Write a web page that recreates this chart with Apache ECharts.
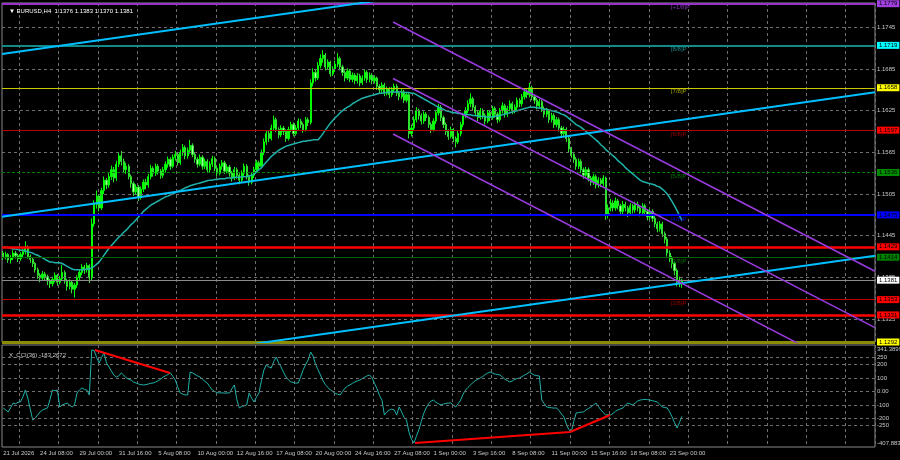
<!DOCTYPE html>
<html><head><meta charset="utf-8">
<script src="https://cdn.jsdelivr.net/npm/echarts@6/dist/echarts.min.js"></script>
<style>html,body{margin:0;padding:0;background:#000}#c{width:900px;height:460px}</style>
</head><body><div id="c"></div>
<script>
// ---------- DATA (prices in pips: 11381 = 1.1381) ----------
const ohlcPips = [
[11420,11415,11410,11423],[11415,11418,11411,11422],[11418,11410,11406,11420],[11410,11413,11405,11417],[11413,11420,11410,11424],
[11420,11416,11412,11423],[11416,11412,11407,11419],[11412,11418,11409,11421],[11418,11422,11414,11426],[11422,11428,11418,11437],
[11428,11415,11412,11431],[11415,11411,11406,11418],[11411,11405,11400,11413],[11405,11396,11392,11407],[11396,11388,11383,11399],
[11388,11384,11378,11391],[11384,11390,11380,11394],[11390,11386,11381,11393],[11386,11380,11374,11389],[11380,11376,11370,11383],
[11376,11382,11372,11386],[11382,11388,11378,11392],[11388,11378,11373,11390],[11378,11383,11375,11387],[11383,11392,11380,11403],
[11392,11380,11376,11395],[11380,11372,11366,11383],[11372,11378,11368,11382],[11378,11368,11362,11380],[11368,11374,11356,11377],
[11374,11385,11370,11388],[11385,11392,11381,11396],[11392,11400,11388,11404],[11400,11396,11390,11403],[11396,11402,11392,11406],
[11402,11384,11377,11404],[11384,11462,11380,11470],[11462,11490,11458,11496],[11490,11502,11484,11510],[11502,11485,11480,11505],
[11485,11510,11482,11514],[11510,11525,11505,11530],[11525,11518,11512,11528],[11518,11530,11514,11535],[11530,11540,11525,11546],
[11540,11528,11522,11544],[11528,11548,11524,11553],[11548,11560,11544,11565],[11560,11552,11546,11567],[11552,11540,11535,11556],
[11540,11545,11534,11550],[11545,11530,11526,11548],[11530,11520,11514,11533],[11520,11508,11502,11523],[11508,11515,11504,11519],
[11515,11500,11495,11518],[11500,11512,11497,11516],[11512,11522,11508,11526],[11522,11518,11512,11527],[11518,11530,11514,11534],
[11530,11542,11526,11547],[11542,11535,11530,11545],[11535,11545,11531,11549],[11545,11538,11533,11548],[11538,11532,11527,11541],
[11532,11540,11528,11544],[11540,11548,11536,11552],[11548,11555,11543,11559],[11555,11545,11540,11558],[11545,11558,11542,11562],
[11558,11562,11553,11567],[11562,11550,11546,11565],[11550,11565,11547,11569],[11565,11572,11560,11577],[11572,11560,11555,11575],
[11560,11568,11556,11572],[11568,11575,11563,11583],[11575,11562,11558,11578],[11562,11555,11550,11565],[11555,11548,11543,11558],
[11548,11558,11545,11562],[11558,11545,11540,11561],[11545,11552,11541,11556],[11552,11540,11535,11555],[11540,11548,11536,11552],
[11548,11556,11544,11560],[11556,11542,11538,11559],[11542,11535,11530,11545],[11535,11545,11532,11549],[11545,11550,11540,11554],
[11550,11538,11534,11553],[11538,11544,11535,11548],[11544,11535,11530,11547],[11535,11528,11523,11538],[11528,11540,11525,11544],
[11540,11532,11527,11543],[11532,11525,11519,11535],[11525,11535,11522,11539],[11535,11545,11531,11549],[11545,11530,11526,11548],
[11530,11522,11517,11533],[11522,11532,11519,11536],[11532,11540,11528,11544],[11540,11550,11536,11554],[11550,11545,11540,11553],
[11545,11565,11542,11569],[11565,11580,11561,11585],[11580,11592,11576,11597],[11592,11585,11580,11596],[11585,11600,11582,11605],
[11600,11612,11596,11618],[11612,11598,11594,11615],[11598,11590,11585,11601],[11590,11600,11587,11604],[11600,11595,11590,11603],
[11595,11585,11580,11598],[11585,11598,11582,11602],[11598,11605,11594,11609],[11605,11592,11588,11608],[11592,11600,11589,11604],
[11600,11610,11596,11614],[11610,11605,11600,11613],[11605,11598,11593,11608],[11598,11612,11595,11616],[11612,11608,11603,11615],
[11608,11665,11605,11670],[11665,11680,11660,11686],[11680,11672,11667,11684],[11672,11690,11669,11695],[11690,11700,11686,11706],
[11700,11705,11694,11712],[11705,11688,11683,11708],[11688,11695,11684,11699],[11695,11678,11674,11697],[11678,11685,11675,11689],
[11685,11692,11681,11697],[11692,11700,11688,11708],[11700,11688,11683,11703],[11688,11680,11675,11691],[11680,11672,11667,11683],
[11672,11682,11669,11686],[11682,11670,11666,11685],[11670,11676,11666,11680],[11676,11668,11663,11679],[11668,11675,11664,11679],
[11675,11665,11660,11678],[11665,11672,11662,11676],[11672,11680,11668,11684],[11680,11670,11665,11683],[11670,11676,11666,11680],
[11676,11668,11663,11679],[11668,11672,11664,11676],[11672,11660,11655,11674],[11660,11655,11650,11663],[11655,11662,11651,11666],
[11662,11650,11646,11665],[11650,11656,11647,11660],[11656,11648,11643,11659],[11648,11655,11645,11659],[11655,11660,11651,11664],
[11660,11650,11646,11663],[11650,11645,11640,11653],[11645,11652,11642,11656],[11652,11640,11636,11655],[11640,11648,11637,11652],
[11648,11592,11585,11650],[11592,11600,11588,11605],[11600,11612,11596,11617],[11612,11625,11608,11630],[11625,11618,11612,11628],
[11618,11610,11605,11621],[11610,11620,11606,11624],[11620,11615,11610,11623],[11615,11605,11600,11618],[11605,11598,11593,11608],
[11598,11610,11595,11614],[11610,11622,11606,11626],[11622,11630,11618,11635],[11630,11615,11610,11633],[11615,11605,11600,11618],
[11605,11595,11590,11608],[11595,11588,11583,11598],[11588,11598,11585,11602],[11598,11585,11580,11600],[11585,11580,11572,11588],
[11580,11592,11577,11596],[11592,11605,11588,11609],[11605,11618,11601,11622],[11618,11625,11614,11630],[11625,11635,11621,11640],
[11635,11642,11630,11650],[11642,11630,11625,11645],[11630,11622,11617,11633],[11622,11615,11610,11625],[11615,11625,11612,11629],
[11625,11618,11613,11628],[11618,11610,11605,11621],[11610,11622,11607,11626],[11622,11615,11610,11625],[11615,11628,11612,11632],
[11628,11620,11615,11631],[11620,11612,11607,11623],[11612,11625,11609,11629],[11625,11632,11621,11637],[11632,11620,11615,11635],
[11620,11628,11616,11632],[11628,11635,11624,11640],[11635,11625,11620,11638],[11625,11630,11621,11634],[11630,11640,11626,11644],
[11640,11635,11630,11643],[11635,11645,11631,11649],[11645,11652,11641,11657],[11652,11648,11643,11656],[11648,11658,11644,11665],
[11658,11645,11640,11661],[11645,11640,11635,11648],[11640,11632,11627,11643],[11632,11638,11628,11642],[11638,11628,11623,11641],
[11628,11620,11615,11631],[11620,11625,11616,11629],[11625,11612,11607,11627],[11612,11618,11608,11622],[11618,11605,11600,11621],
[11605,11612,11601,11616],[11612,11600,11595,11615],[11600,11592,11587,11603],[11592,11598,11588,11602],[11598,11585,11580,11601],
[11585,11570,11565,11588],[11570,11562,11557,11573],[11562,11555,11550,11565],[11555,11545,11540,11558],[11545,11552,11541,11556],
[11552,11540,11535,11555],[11540,11532,11527,11543],[11532,11540,11528,11544],[11540,11528,11523,11543],[11528,11522,11517,11531],
[11522,11530,11518,11534],[11530,11518,11513,11533],[11518,11525,11514,11529],[11525,11520,11515,11528],[11520,11528,11516,11532],
[11528,11475,11468,11530],[11475,11485,11470,11490],[11485,11492,11480,11498],[11492,11485,11480,11496],[11485,11495,11481,11500],
[11495,11488,11483,11498],[11488,11480,11475,11491],[11480,11490,11476,11495],[11490,11485,11480,11494],[11485,11478,11472,11488],
[11478,11488,11474,11492],[11488,11482,11477,11491],[11482,11490,11478,11494],[11490,11485,11480,11494],[11485,11478,11473,11488],
[11478,11488,11474,11492],[11488,11480,11475,11491],[11480,11472,11467,11483],[11472,11480,11468,11484],[11480,11470,11465,11483],
[11470,11462,11457,11473],[11462,11455,11450,11465],[11455,11462,11451,11466],[11462,11448,11443,11465],[11448,11440,11434,11451],
[11440,11420,11415,11443],[11420,11412,11407,11424],[11412,11405,11398,11416],[11405,11395,11388,11408],[11395,11378,11372,11398],
[11378,11376,11371,11386],[11376,11381,11370,11383]
];
const maPips = [
11429,11428,11428,11427,11426,11426,11425,11424,11424,11423,
11422,11421,11420,11418,11417,11415,11413,11411,11409,11407,
11407,11406,11406,11406,11405,11403,11401,11399,11397,11396,
11396,11396,11396,11396,11397,11397,11399,11401,11404,11407,
11412,11417,11422,11427,11431,11435,11439,11443,11446,11450,
11453,11457,11461,11464,11468,11472,11476,11480,11483,11486,
11489,11491,11493,11495,11497,11499,11501,11502,11504,11505,
11507,11509,11510,11512,11514,11515,11517,11518,11519,11520,
11521,11522,11523,11524,11525,11525,11526,11526,11527,11527,
11527,11528,11528,11528,11529,11529,11529,11530,11530,11530,
11531,11532,11534,11537,11540,11543,11547,11551,11555,11559,
11562,11565,11568,11570,11572,11574,11575,11576,11577,11578,
11579,11580,11581,11581,11582,11582,11583,11583,11583,11587,
11592,11597,11602,11607,11611,11615,11618,11622,11625,11628,
11630,11632,11635,11637,11639,11641,11643,11644,11645,11646,
11647,11648,11649,11650,11650,11651,11651,11652,11652,11652,
11652,11652,11652,11651,11651,11651,11650,11650,11648,11646,
11644,11642,11640,11638,11636,11634,11632,11630,11628,11627,
11625,11624,11623,11622,11622,11621,11621,11620,11620,11619,
11619,11618,11618,11617,11617,11617,11616,11616,11616,11616,
11617,11617,11618,11619,11620,11621,11622,11623,11624,11625,
11626,11627,11628,11629,11630,11630,11630,11629,11629,11628,
11627,11627,11626,11625,11624,11623,11622,11620,11619,11617,
11614,11611,11608,11605,11603,11601,11598,11595,11592,11589,
11586,11583,11580,11576,11573,11569,11566,11563,11560,11557,
11553,11550,11547,11543,11540,11537,11534,11531,11528,11525,
11523,11522,11521,11520,11519,11518,11516,11515,11512,11509,
11505,11500,11494,11488,11481,11474,11467
];
const cciValues = [
-121,-135,-150,-120,-85,-90,-80,-77,-40,11,
-48,-130,-210,-195,-173,-150,-136,-128,-121,-60,
11,5,11,-114,-99,-92,-85,-100,-114,-99,
-11,10,26,15,11,-26,305,300,250,209,
250,283,209,180,150,120,106,115,136,120,
100,90,84,70,62,55,50,48,50,55,
60,62,70,80,90,106,115,125,136,110,
84,30,-11,-20,-25,-26,143,136,125,115,
106,90,75,62,35,11,0,-8,-11,-10,
-12,-11,-11,20,48,-60,-121,-110,-105,-99,
-11,-50,-77,-40,-11,80,158,195,180,172,
220,253,210,180,140,106,85,70,65,62,
62,110,160,200,231,290,260,200,160,121,
80,50,30,11,0,-15,-20,-26,0,25,
40,48,60,70,78,84,95,105,115,121,
100,60,20,-30,-63,-173,-150,-136,-130,-136,
-173,-114,-150,-190,-210,-300,-350,-378,-330,-283,
-220,-160,-121,-90,-70,-63,-80,-90,-99,-92,
-88,-85,-85,-100,-114,-90,-63,-20,10,30,
48,65,80,90,99,110,125,135,143,135,
128,125,121,105,90,80,70,78,88,95,
99,110,120,130,143,130,120,116,114,-63,
-90,-114,-118,-120,-122,-121,-140,-165,-187,-240,
-280,-298,-220,-158,-155,-152,-150,-135,-125,-114,
-100,-85,-110,-135,-155,-173,-170,-173,-160,-145,
-136,-128,-121,-100,-85,-92,-99,-85,-70,-63,
-60,-58,-60,-63,-68,-72,-77,-95,-114,-118,
-121,-150,-187,-230,-268,-228,-183
];
const tickIndex = [0,15,31,47,63,79,95,111,127,143,159,175,191,207,223,239,255,271];
const tickLabels = ['21 Jul 2026','24 Jul 08:00','29 Jul 00:00','31 Jul 16:00','5 Aug 08:00','10 Aug 00:00','12 Aug 16:00','17 Aug 08:00','20 Aug 00:00','24 Aug 16:00','27 Aug 08:00','1 Sep 00:00','3 Sep 16:00','8 Sep 08:00','11 Sep 00:00','15 Sep 16:00','18 Sep 08:00','23 Sep 00:00'];
const priceTicks = [1.1325,1.1385,1.1445,1.1505,1.1565,1.1625,1.1685,1.1745];
const murrayLevels = [1.1779,1.1719,1.1658,1.1597,1.1536,1.1475,1.1414,1.1353,1.1292];
const murrayNames = ['[+1/8]P','[8/8]P','[7/8]P','[6/8]P','[5/8]P','[4/8]P','[3/8]P','[2/8]P',''];
const srLevels = [1.1429,1.1331];
const bidPrice = 1.1381;
const priceRange = [1.1292,1.1780];
const cciTicks = [250,200,100,0,-100,-200,-250];
const cciRange = [-407.883,341.3899];
const trendUp = [
  [[-0.5,1.17066],[354.5,1.18850]],
  [[-0.5,1.14724],[354.5,1.16515]],
  [[-0.5,1.12378],[354.5,1.14162]]
];
const channelDown = [
  [[158.5,1.17527],[354.5,1.13939]],
  [[158.5,1.16713],[354.5,1.13126]],
  [[158.5,1.15914],[354.5,1.12327]]
];
const cciDivA = [[37.3,305],[67.8,136]];
const cciDivB = [[167.5,-378],[230.5,-298],[246.8,-173]];
const headerText = '\u25BC EURUSD,H4  1.1376 1.1383 1.1370 1.1381';
const cciTitle = 'X_CCI(36) -183.2672';

// ---------- STYLE / LAYOUT ----------
const N_SLOTS = 355;
const GRID_FIRST = 7, GRID_STEP = 16;
const MURRAY_TEXT_BAR = 271.5;
const FONT = 'Liberation Sans, Arial, sans-serif';
const FS = 6;
const murrayStyle = [
  {c:'#9932CC', w:2, bg:'#A040E0', tc:'#A040E0'},
  {c:'#138A8A', w:2, bg:'#00FFFF', tc:'#20A8A8'},
  {c:'#C8C800', w:1, bg:'#FFFF00', tc:'#C8C800'},
  {c:'#B00000', w:1, bg:'#FF0000', tc:'#C00000'},
  {c:'#008000', w:1, bg:'#008C00', tc:'#009000', t:[3,2]},
  {c:'#0000FF', w:2, bg:'#0000FF', tc:'#0000FF'},
  {c:'#006400', w:1, bg:'#008000', tc:'#008000'},
  {c:'#C00000', w:1, bg:'#FF0000', tc:'#C00000'},
  {c:'#8C8C00', w:3, bg:'#FFFF00', tc:'#8C8C00'}
];

const P = v => v / 10000;
const candleData = ohlcPips.map(r => r.map(P));
const maData = maPips.map(P);
const cats = Array.from({length: N_SLOTS}, (_, i) => String(i));
const labelAt = {};
tickIndex.forEach((ix, k) => { labelAt[ix] = tickLabels[k]; });
const isGrid = i => i >= GRID_FIRST && (i - GRID_FIRST) % GRID_STEP === 0;
const gridLine = {show: true, interval: (i) => isGrid(i), lineStyle: {color: '#6e6e6e', type: [3, 3], width: 1}};

function boxLabel(text, bg, fg) {
  return {show: true, position: 'end', distance: 2, formatter: text, color: fg || '#000',
    backgroundColor: bg, padding: [1, 2, 0, 2], fontSize: FS, fontFamily: FONT};
}
function plainLabel(text, lh) {
  const o = {show: true, position: 'end', distance: 2, formatter: text, color: '#c8c8c8',
    fontSize: FS, fontFamily: FONT};
  if (lh) o.lineHeight = lh;
  return o;
}

const priceGridMarks = priceTicks.map(v => ({yAxis: v,
  lineStyle: {color: '#6e6e6e', type: [3, 3], width: 1}, label: plainLabel(v.toFixed(4))}));

const levelMarks = [];
murrayLevels.forEach((v, k) => {
  const s = murrayStyle[k];
  levelMarks.push({yAxis: v, lineStyle: {color: s.c, width: s.w, type: s.t || 'solid'},
    label: boxLabel(v.toFixed(4), s.bg)});
});
levelMarks.push({yAxis: bidPrice, lineStyle: {color: '#8c8c8c', width: 1, type: 'solid'},
  label: boxLabel(bidPrice.toFixed(4), '#ffffff')});
srLevels.forEach(v => levelMarks.push({yAxis: v, lineStyle: {color: '#FF0000', width: 2.5, type: 'solid'},
  label: boxLabel(v.toFixed(4), '#FF0000')}));

const murrayTextData = murrayLevels.map((v, k) => ({value: [MURRAY_TEXT_BAR, v],
  label: {formatter: murrayNames[k], color: murrayStyle[k].tc}})).filter((d, k) => murrayNames[k]);

const cciGridMarks = cciTicks.map(v => ({yAxis: v,
  lineStyle: {color: '#6e6e6e', type: [3, 3], width: 1}, label: plainLabel(v === 0 ? '0.00' : String(v))}));
const cciEdgeMarks = [
  {yAxis: cciRange[1] - 0.01, lineStyle: {color: 'rgba(0,0,0,0)', width: 1}, label: plainLabel('\n' + cciRange[1].toFixed(4), 8)},
  {yAxis: cciRange[0] + 0.01, lineStyle: {color: 'rgba(0,0,0,0)', width: 1}, label: plainLabel(cciRange[0].toFixed(3) + '\n', 8)}
];

const mk = (data) => ({symbol: ['none', 'none'], silent: true, animation: false, precision: 6, data: data});

const series = [];
series.push({type: 'line', xAxisIndex: 0, yAxisIndex: 0, data: [], z: 1, silent: true, markLine: mk(priceGridMarks)});
series.push({type: 'candlestick', xAxisIndex: 0, yAxisIndex: 0, data: candleData, barWidth: 1.7, z: 3,
  itemStyle: {color: '#00FF00', color0: '#A8FFA8', borderColor: '#00FF00', borderColor0: '#30E030', borderWidth: 1},
  markLine: mk(levelMarks)});
series.push({type: 'line', xAxisIndex: 0, yAxisIndex: 0, data: maData, symbol: 'none', z: 4,
  lineStyle: {color: '#20B2AA', width: 1.5}});
trendUp.forEach(seg => series.push({type: 'line', xAxisIndex: 2, yAxisIndex: 0, data: seg, symbol: 'none', z: 5,
  lineStyle: {color: '#00BFFF', width: 2}}));
channelDown.forEach(seg => series.push({type: 'line', xAxisIndex: 2, yAxisIndex: 0, data: seg, symbol: 'none', z: 5,
  lineStyle: {color: '#9A3BE0', width: 1.5}}));
series.push({type: 'scatter', xAxisIndex: 2, yAxisIndex: 0, data: murrayTextData, symbolSize: 0, z: 6, silent: true,
  label: {show: true, position: [0, 1], align: 'left', verticalAlign: 'top', fontSize: FS, fontFamily: FONT}});
series.push({type: 'line', xAxisIndex: 1, yAxisIndex: 1, data: [], z: 1, silent: true, markLine: mk(cciGridMarks)});
series.push({type: 'line', xAxisIndex: 1, yAxisIndex: 1, data: [], z: 7, silent: true, markLine: mk(cciEdgeMarks)});
series.push({type: 'line', xAxisIndex: 1, yAxisIndex: 1, data: cciValues, symbol: 'none', z: 4,
  lineStyle: {color: '#20B2AA', width: 1}});
[cciDivA, cciDivB].forEach(seg => series.push({type: 'line', xAxisIndex: 3, yAxisIndex: 1, data: seg, symbol: 'none', z: 5,
  lineStyle: {color: '#FF0000', width: 2}}));

const chart = echarts.init(document.getElementById('c'), null, {renderer: 'canvas'});
chart.setOption({
  backgroundColor: '#000000',
  animation: false,
  title: [
    {text: headerText, left: 4, top: 3, textStyle: {color: '#ffffff', fontSize: FS, fontWeight: 'normal', fontFamily: FONT}},
    {text: cciTitle, left: 4, top: 347, textStyle: {color: '#c8c8c8', fontSize: FS, fontWeight: 'normal', fontFamily: FONT}}
  ],
  grid: [
    {left: 2, top: 3, width: 873, height: 339, show: true, borderColor: '#8a8a8a', borderWidth: 1, backgroundColor: 'transparent'},
    {left: 2, top: 345, width: 873, height: 102, show: true, borderColor: '#8a8a8a', borderWidth: 1, backgroundColor: 'transparent'}
  ],
  xAxis: [
    {type: 'category', gridIndex: 0, data: cats, boundaryGap: true, axisLine: {show: false}, axisTick: {show: false},
      axisLabel: {show: false}, splitLine: gridLine},
    {type: 'category', gridIndex: 1, data: cats, boundaryGap: true, axisLine: {show: false}, axisTick: {show: false},
      axisLabel: {show: true, interval: (i) => labelAt[i] !== undefined, formatter: (v, i) => labelAt[i] || '',
        color: '#c8c8c8', fontSize: FS, fontFamily: FONT, align: 'left', margin: 3},
      splitLine: gridLine},
    {type: 'value', gridIndex: 0, min: -0.5, max: N_SLOTS - 0.5, show: false},
    {type: 'value', gridIndex: 1, min: -0.5, max: N_SLOTS - 0.5, show: false}
  ],
  yAxis: [
    {type: 'value', gridIndex: 0, min: priceRange[0], max: priceRange[1], show: false, scale: true},
    {type: 'value', gridIndex: 1, min: cciRange[0], max: cciRange[1], show: false}
  ],
  series: series
});
</script>
</body></html>
